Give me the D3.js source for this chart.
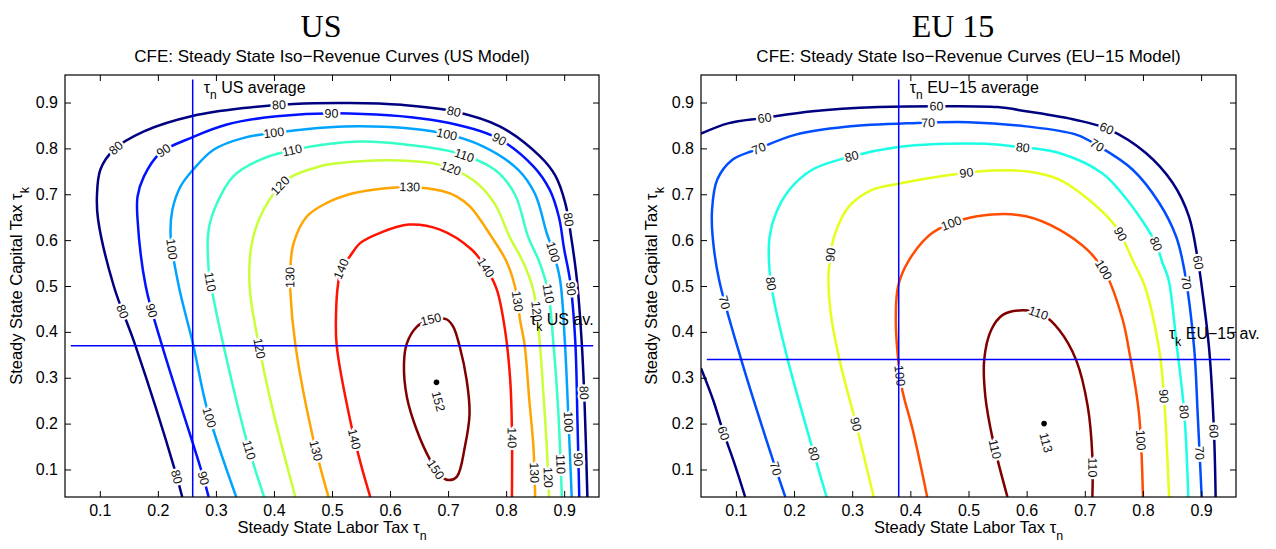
<!DOCTYPE html>
<html>
<head>
<meta charset="utf-8">
<script src="https://cdn.jsdelivr.net/npm/d3@7"></script>
<style>
  body { margin: 0; background: #fff; }
  svg text { font-family: "Liberation Sans", Arial, Helvetica, sans-serif; }
</style>
</head>
<body>
<svg id="chart" width="1276" height="549"></svg>
<script>

// ### DATA (tax rates)

var tickValues = [0.1, 0.2, 0.3, 0.4, 0.5, 0.6, 0.7, 0.8, 0.9];
var axisDomain = [0.04, 0.96];

var usLevels = [80, 90, 100, 110, 120, 130, 140, 150];
var euLevels = [60, 70, 80, 90, 100, 110];

// US model iso-revenue curves: [labor tax, capital tax]
var us80 = [[.242,.04],[.230,.096],[.161,.371],[.124,.50],[.097,.645],[.095,.695],[.101,.754],[.124,.797],[.176,.837],[.261,.871],[.348,.888],[.434,.897],[.53,.899],[.62,.895],[.709,.881],[.789,.848],[.858,.783],[.885,.74],[.902,.68],[.912,.607],[.922,.513],[.930,.382],[.935,.25],[.940,.04]];
var us90 = [[.2875,.04],[.276,.093],[.207,.371],[.179,.50],[.165,.645],[.165,.695],[.176,.739],[.204,.79],[.261,.825],[.319,.852],[.405,.87],[.53,.876],[.686,.859],[.784,.823],[.847,.761],[.875,.71],[.891,.65],[.900,.58],[.910,.513],[.919,.382],[.923,.2],[.926,.04]];
var us100 = [[.335,.04],[.285,.231],[.261,.371],[.236,.50],[.222,.608],[.225,.666],[.239,.717],[.261,.754],[.296,.797],[.348,.823],[.434,.839],[.549,.848],[.686,.834],[.761,.804],[.821,.753],[.850,.70],[.870,.615],[.881,.575],[.893,.513],[.901,.382],[.906,.25],[.913,.04]];
var us110 = [[.383,.04],[.354,.158],[.313,.371],[.293,.492],[.2875,.536],[.2875,.623],[.302,.681],[.33,.739],[.376,.775],[.434,.797],[.549,.815],[.629,.808],[.715,.79],[.781,.753],[.815,.70],[.838,.607],[.858,.55],[.872,.49],[.881,.382],[.89,.224],[.896,.04]];
var us120 = [[.437,.04],[.399,.224],[.374,.371],[.358,.50],[.362,.594],[.382,.666],[.422,.732],[.48,.761],[.514,.768],[.6,.774],[.686,.764],[.743,.731],[.78,.68],[.806,.607],[.830,.55],[.847,.49],[.857,.39],[.865,.25],[.87,.15],[.874,.04]];
var us130 = [[.494,.04],[.468,.165],[.437,.371],[.428,.492],[.428,.536],[.434,.594],[.457,.652],[.491,.681],[.53,.70],[.571,.71],[.634,.716],[.69,.707],[.715,.695],[.738,.673],[.775,.607],[.800,.555],[.815,.50],[.824,.426],[.832,.37],[.840,.25],[.847,.15],[.85,.04]];
var us140 = [[.566,.04],[.549,.115],[.531,.209],[.508,.371],[.507,.441],[.510,.50],[.516,.538],[.531,.565],[.549,.594],[.583,.616],[.632,.634],[.686,.623],[.741,.579],[.767,.536],[.784,.492],[.798,.405],[.807,.296],[.81,.187],[.81,.04]];
var us150 = [[.698,.427],[.709,.411],[.720,.368],[.732,.295],[.737,.222],[.729,.150],[.715,.084],[.700,.077],[.686,.088],[.669,.121],[.646,.186],[.629,.258],[.624,.331],[.629,.375],[.646,.411],[.669,.427],[.686,.429]];

// EU-15 model iso-revenue curves
var eu60a = [[.04,.832],[.088,.855],[.146,.866],[.232,.881],[.346,.89],[.461,.892],[.55,.89],[.599,.881],[.685,.862],[.742,.841],[.805,.79],[.851,.725],[.879,.652],[.894,.56],[.902,.49],[.914,.36],[.922,.187],[.925,.04]];
var eu60b = [[.04,.321],[.061,.251],[.077,.187],[.097,.115],[.116,.04]];
var eu70 = [[.185,.04],[.169,.10],[.109,.34],[.071,.514],[.06,.608],[.059,.666],[.068,.732],[.094,.775],[.134,.797],[.203,.83],[.289,.847],[.404,.855],[.50,.857],[.599,.848],[.685,.83],[.725,.804],[.782,.754],[.828,.681],[.857,.608],[.871,.536],[.888,.365],[.894,.224],[.901,.04]];
var eu80 = [[.256,.04],[.232,.144],[.189,.34],[.163,.485],[.157,.55],[.158,.608],[.169,.659],[.192,.71],[.232,.754],[.30,.783],[.379,.803],[.461,.81],[.53,.81],[.587,.803],[.656,.79],[.73,.746],[.765,.70],[.80,.64],[.822,.593],[.834,.549],[.844,.514],[.859,.36],[.871,.224],[.878,.04]];
var eu90 = [[.337,.04],[.306,.202],[.278,.34],[.263,.441],[.259,.514],[.26,.536],[.269,.608],[.295,.674],[.335,.71],[.379,.723],[.461,.741],[.541,.752],[.599,.75],[.656,.732],[.708,.687],[.753,.63],[.785,.549],[.803,.50],[.828,.36],[.836,.26],[.845,.04]];
var eu100 = [[.429,.04],[.404,.187],[.386,.274],[.379,.34],[.375,.427],[.379,.50],[.398,.557],[.438,.616],[.49,.645],[.541,.656],[.599,.652],[.656,.623],[.705,.578],[.735,.53],[.765,.427],[.776,.36],[.793,.224],[.80,.04]];
var eu110 = [[.567,.04],[.542,.164],[.529,.259],[.527,.339],[.539,.404],[.559,.437],[.593,.447],[.628,.437],[.656,.404],[.685,.339],[.705,.238],[.713,.129],[.713,.04]];

// inline contour labels: [level, labor tax, capital tax]
var usLabels = [
  [80,.410,.892],[80,.709,.880],[80,.129,.798],[80,.910,.644],[80,.135,.444],[80,.229,.084],[80,.933,.266],
  [90,.499,.874],[90,.789,.822],[90,.212,.793],[90,.186,.444],[90,.276,.081],[90,.910,.495],[90,.926,.121],
  [100,.399,.827],[100,.698,.829],[100,.224,.582],[100,.884,.575],[100,.293,.215],[100,.906,.204],
  [110,.431,.796],[110,.726,.782],[110,.290,.509],[110,.874,.484],[110,.359,.142],[110,.893,.113],
  [120,.416,.713],[120,.703,.749],[120,.370,.364],[120,.855,.444],[120,.874,.084],
  [130,.634,.713],[130,.428,.520],[130,.824,.469],[130,.471,.142],[130,.847,.092],
  [140,.522,.535],[140,.758,.535],[140,.537,.164],[140,.810,.171],
  [150,.669,.432],[150,.677,.099]
];
var euLabels = [
  [60,.150,.866],[60,.445,.890],[60,.736,.842],[60,.896,.553],[60,.919,.182],[60,.076,.179],
  [70,.140,.794],[70,.430,.856],[70,.720,.805],[70,.875,.506],[70,.899,.135],[70,.078,.462],[70,.167,.103],
  [80,.300,.781],[80,.593,.800],[80,.822,.593],[80,.869,.226],[80,.163,.506],[80,.233,.135],
  [90,.497,.747],[90,.762,.615],[90,.833,.259],[90,.264,.568],[90,.301,.197],
  [100,.470,.635],[100,.728,.531],[100,.796,.164],[100,.382,.306],
  [110,.619,.437],[110,.542,.142],[110,.711,.103]
];

// revenue maximum [labor, capital, revenue]
var usPeak = [0.68, 0.29, 152];
var euPeak = [0.63, 0.20, 113];

// observed averages
var usAvg = { labor: 0.26, capital: 0.37 };
var euAvg = { labor: 0.38, capital: 0.34 };

// ### DRAWING

var svg = d3.select("#chart");

// matlab jet colormap
function jet(t) {
  var c = function(v) { return Math.round(255 * Math.max(0, Math.min(1, v))); };
  return d3.rgb(c(1.5 - Math.abs(4 * t - 3)), c(1.5 - Math.abs(4 * t - 2)), c(1.5 - Math.abs(4 * t - 1))).toString();
}

// text with a tau and a subscript
function tauText(sel, sub, before, after, size) {
  if (before) sel.append("tspan").text(before);
  sel.append("tspan").text("τ");
  sel.append("tspan").attr("dy", size * 0.4).style("font-size", (size * 0.75) + "px").text(sub);
  sel.append("tspan").attr("dy", -size * 0.4).text(after);
}

function drawPanel(cfg) {
  var x = d3.scaleLinear().domain(axisDomain).range([cfg.left, cfg.right]);
  var y = d3.scaleLinear().domain(axisDomain).range([cfg.bottom, cfg.top]);
  var midX = (cfg.left + cfg.right) / 2;

  // titles
  svg.append("text").attr("x", cfg.bigX).attr("y", 37)
    .attr("text-anchor", "middle")
    .style("font-family", "'Liberation Serif', 'Times New Roman', serif")
    .style("font-size", "32px")
    .text(cfg.bigTitle);
  svg.append("text").attr("x", midX).attr("y", 62)
    .attr("text-anchor", "middle").style("font-size", "17px")
    .text(cfg.title);

  var clipId = "clip" + cfg.id;
  svg.append("clipPath").attr("id", clipId).append("rect")
    .attr("x", cfg.left).attr("y", cfg.top)
    .attr("width", cfg.right - cfg.left).attr("height", cfg.bottom - cfg.top);

  var plot = svg.append("g").attr("clip-path", "url(#" + clipId + ")");

  var color = function(lev) {
    var i = cfg.levels.indexOf(lev);
    return jet(i / (cfg.levels.length - 1));
  };

  var line = d3.line().x(function(d) { return x(d[0]); }).y(function(d) { return y(d[1]); })
    .curve(d3.curveCatmullRom.alpha(0.5));
  var closedLine = d3.line().x(function(d) { return x(d[0]); }).y(function(d) { return y(d[1]); })
    .curve(d3.curveCatmullRomClosed.alpha(0.5));

  var paths = plot.selectAll("path.contour")
    .data(cfg.curves)
    .enter().append("path")
    .attr("class", "contour")
    .attr("fill", "none")
    .attr("stroke", function(d) { return color(d[0]); })
    .attr("stroke-width", 2.5)
    .attr("stroke-linejoin", "round")
    .attr("d", function(d) { return d[2] ? closedLine(d[1]) : line(d[1]); });

  // sample the drawn paths so labels sit on the curves
  var samples = [];
  paths.each(function(d) {
    var len = this.getTotalLength();
    var pts = [];
    for (var s = 0; s <= len; s += 1.5) {
      var p = this.getPointAtLength(s);
      pts.push([p.x, p.y]);
    }
    samples.push({ level: d[0], pts: pts });
  });

  var labelG = plot.append("g");
  cfg.labels.forEach(function(lb) {
    var px = x(lb[1]), py = y(lb[2]);
    var best = null, bd = Infinity;
    samples.forEach(function(c) {
      if (c.level !== lb[0]) return;
      for (var i = 0; i < c.pts.length; i++) {
        var dd = (c.pts[i][0] - px) * (c.pts[i][0] - px) + (c.pts[i][1] - py) * (c.pts[i][1] - py);
        if (dd < bd) { bd = dd; best = { pts: c.pts, i: i }; }
      }
    });
    if (!best) return;
    var a = best.pts[Math.max(0, best.i - 4)], b = best.pts[Math.min(best.pts.length - 1, best.i + 4)];
    var ang = Math.atan2(b[1] - a[1], b[0] - a[0]) * 180 / Math.PI;
    if (ang > 90) ang -= 180;
    if (ang <= -90) ang += 180;
    var p = best.pts[best.i];
    labelG.append("text")
      .attr("transform", "translate(" + p[0] + "," + p[1] + ") rotate(" + ang + ")")
      .attr("text-anchor", "middle").attr("dy", "0.35em")
      .style("font-size", "12.5px").style("fill", "#111")
      .style("stroke", "#fff").style("stroke-width", 4.5)
      .style("paint-order", "stroke").style("stroke-linejoin", "round")
      .text(lb[0]);
  });

  // average tax lines
  plot.append("line")
    .attr("x1", x(cfg.avg.labor)).attr("x2", x(cfg.avg.labor))
    .attr("y1", y(0)).attr("y2", y(0.95))
    .attr("stroke", "#0000ff").attr("stroke-width", 1.5);
  plot.append("line")
    .attr("x1", x(0.05)).attr("x2", x(0.95))
    .attr("y1", y(cfg.avg.capital)).attr("y2", y(cfg.avg.capital))
    .attr("stroke", "#0000ff").attr("stroke-width", 1.5);

  // peak
  plot.append("circle").attr("cx", x(cfg.peak[0])).attr("cy", y(cfg.peak[1]))
    .attr("r", 2.8).attr("fill", "#000");
  plot.append("text")
    .attr("transform", "translate(" + (x(cfg.peak[0]) + 2) + "," + (y(cfg.peak[1]) + 19) + ") rotate(75)")
    .attr("text-anchor", "middle").attr("dy", "0.35em")
    .style("font-size", "12.5px").style("fill", "#111")
    .text(cfg.peak[2]);

  // annotations
  tauText(svg.append("text").attr("x", x(cfg.avg.labor) + 11).attr("y", 93).style("font-size", "16px"),
    "n", null, " " + cfg.name + " average", 16);
  tauText(svg.append("text").attr("x", cfg.kX).attr("y", y(cfg.kY)).style("font-size", "16px"),
    "k", null, " " + cfg.name + " av.", 16);

  // axes, ticks pointing inwards on all four sides
  var fmt = d3.format(".1f");
  svg.append("g").attr("transform", "translate(0," + cfg.bottom + ")")
    .call(d3.axisBottom(x).tickValues(tickValues).tickSize(-6).tickPadding(8).tickFormat(fmt));
  svg.append("g").attr("transform", "translate(0," + cfg.top + ")")
    .call(d3.axisTop(x).tickValues(tickValues).tickSize(-6).tickFormat(""));
  svg.append("g").attr("transform", "translate(" + cfg.left + ",0)")
    .call(d3.axisLeft(y).tickValues(tickValues).tickSize(-6).tickPadding(7).tickFormat(fmt));
  svg.append("g").attr("transform", "translate(" + cfg.right + ",0)")
    .call(d3.axisRight(y).tickValues(tickValues).tickSize(-6).tickFormat(""));
  svg.selectAll(".domain").remove();
  svg.selectAll(".tick line").attr("stroke", "#000");
  svg.selectAll(".tick text").style("font-size", "16px").style("font-family", "'Liberation Sans', Arial, sans-serif").attr("fill", "#000");

  svg.append("rect").attr("x", cfg.left).attr("y", cfg.top)
    .attr("width", cfg.right - cfg.left).attr("height", cfg.bottom - cfg.top)
    .attr("fill", "none").attr("stroke", "#000").attr("stroke-width", 1.2);

  // axis labels
  tauText(svg.append("text").attr("x", midX).attr("y", 533).attr("text-anchor", "middle").style("font-size", "16.5px"),
    "n", "Steady State Labor Tax ", "", 16.5);
  tauText(svg.append("text").attr("transform", "translate(" + cfg.yLabelX + "," + ((cfg.top + cfg.bottom) / 2) + ") rotate(-90)")
    .attr("text-anchor", "middle").style("font-size", "16.5px"),
    "k", "Steady State Capital Tax ", "", 16.5);
}

drawPanel({
  id: "us", name: "US", bigTitle: "US", bigX: 321,
  title: "CFE: Steady State Iso\u2212Revenue Curves (US Model)",
  left: 65, right: 599, top: 75, bottom: 497, yLabelX: 22,
  levels: usLevels,
  curves: [[80, us80], [90, us90], [100, us100], [110, us110], [120, us120], [130, us130], [140, us140], [150, us150, true]],
  labels: usLabels, peak: usPeak, avg: usAvg,
  kX: 530, kY: 0.415
});

drawPanel({
  id: "eu", name: "EU\u221215", bigTitle: "EU 15", bigX: 953,
  title: "CFE: Steady State Iso\u2212Revenue Curves (EU\u221215 Model)",
  left: 701, right: 1236, top: 75, bottom: 497, yLabelX: 657,
  levels: euLevels,
  curves: [[60, eu60a], [60, eu60b], [70, eu70], [80, eu80], [90, eu90], [100, eu100], [110, eu110]],
  labels: euLabels, peak: euPeak, avg: euAvg,
  kX: 1169, kY: 0.384
});

</script>
</body>
</html>
